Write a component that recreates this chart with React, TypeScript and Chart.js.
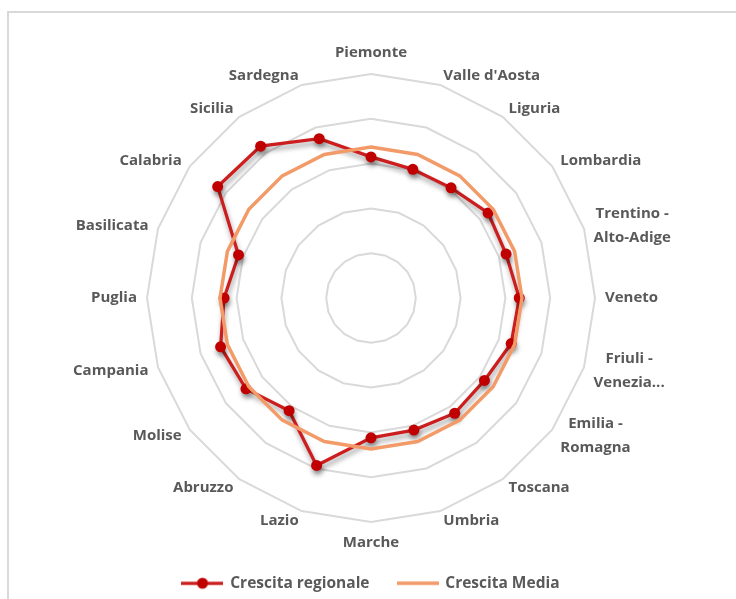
import React, { useEffect, useRef } from "react";
import { Chart, registerables } from "chart.js";

Chart.register(...registerables);

const regioni: (string | string[])[] = [
  "Piemonte",
  "Valle d'Aosta",
  "Liguria",
  "Lombardia",
  ["Trentino -", "Alto-Adige"],
  "Veneto",
  ["Friuli -", "Venezia..."],
  ["Emilia -", "Romagna"],
  "Toscana",
  "Umbria",
  "Marche",
  "Lazio",
  "Abruzzo",
  "Molise",
  "Campania",
  "Puglia",
  "Basilicata",
  "Calabria",
  "Sicilia",
  "Sardegna",
];

const crescitaRegionale = [
  3.15, 3.02, 3.04, 3.23, 3.17, 3.31, 3.29, 3.13, 3.18, 3.1, 3.12, 3.93, 3.11,
  3.45, 3.53, 3.28, 3.11, 4.23, 4.19, 3.74,
];

const crescitaMedia = [
  3.37, 3.37, 3.37, 3.37, 3.37, 3.37, 3.37, 3.37, 3.37, 3.37, 3.37, 3.37, 3.37,
  3.37, 3.37, 3.37, 3.37, 3.37, 3.37, 3.37,
];

const serieNomi = ["Crescita regionale", "Crescita Media"];

const RED_LINE = "#cc1e1e";
const RED_MARK = "#c00000";
const ORANGE = "#f29a68";
const TEXT = "#595959";
const FONT_FAMILY = '"Open Sans", "Noto Sans", sans-serif';

function makeIcon(color: string, width: number, dot: string | null) {
  const c = document.createElement("canvas");
  c.width = 42;
  c.height = 14;
  const g = c.getContext("2d")!;
  g.strokeStyle = color;
  g.lineWidth = width;
  g.beginPath();
  g.moveTo(0, 7);
  g.lineTo(42, 7);
  g.stroke();
  if (dot) {
    g.fillStyle = dot;
    g.beginPath();
    g.arc(21, 7, 5.5, 0, Math.PI * 2);
    g.fill();
  }
  return c;
}

const shadowPlugin = {
  id: "markerShadow",
  beforeDatasetDraw(chart: any, args: any) {
    if (args.index === 0) {
      const ctx = chart.ctx;
      ctx.save();
      ctx.shadowColor = "rgba(0,0,0,0.38)";
      ctx.shadowBlur = 5;
      ctx.shadowOffsetX = 1;
      ctx.shadowOffsetY = 4;
    }
  },
  afterDatasetDraw(chart: any, args: any) {
    if (args.index === 0) chart.ctx.restore();
  },
};

const labelPlugin = {
  id: "excelPointLabels",
  afterDraw(chart: any) {
    const scale = chart.scales.r;
    const ctx = chart.ctx;
    const labels = chart.data.labels as (string | string[])[];
    const n = labels.length;
    ctx.save();
    ctx.font = `700 15px ${FONT_FAMILY}`;
    ctx.fillStyle = TEXT;
    ctx.textAlign = "center";
    ctx.textBaseline = "middle";
    const lh = 24;
    labels.forEach((lab, i) => {
      const lines = Array.isArray(lab) ? lab : [lab];
      const pos = scale.getPointPosition(i, scale.drawingArea + 10);
      const angle = (i * 360) / n;
      const bw = Math.max(...lines.map((l) => ctx.measureText(l).width));
      const bh = lines.length * lh;
      let cx = pos.x;
      let cy = pos.y;
      if (angle === 0) {
        cy = pos.y - 11;
      } else if (angle === 180) {
        cy = pos.y + 11;
      } else if (angle < 180) {
        cx = pos.x + bw / 2;
      } else {
        cx = pos.x - bw / 2;
      }
      lines.forEach((l, j) => {
        ctx.fillText(l, cx, cy - bh / 2 + lh / 2 + j * lh);
      });
    });
    ctx.restore();
  },
};

export default function App() {
  const ref = useRef<HTMLCanvasElement | null>(null);

  useEffect(() => {
    if (!ref.current) return;
    const icons = [makeIcon(RED_LINE, 3.25, RED_MARK), makeIcon(ORANGE, 3.5, null)];
    const chart = new Chart(ref.current, {
      type: "radar",
      data: {
        labels: regioni as any,
        datasets: [
          {
            label: serieNomi[0],
            data: crescitaRegionale,
            borderColor: RED_LINE,
            borderWidth: 3.25,
            backgroundColor: "transparent",
            fill: false,
            pointRadius: 5.5,
            pointBackgroundColor: RED_MARK,
            pointBorderColor: RED_MARK,
            pointBorderWidth: 0,
            tension: 0,
            order: 1,
          },
          {
            label: serieNomi[1],
            data: crescitaMedia,
            borderColor: ORANGE,
            borderWidth: 3.5,
            backgroundColor: "transparent",
            fill: false,
            pointRadius: 0,
            tension: 0,
            order: 0,
          },
        ],
      },
      options: {
        animation: false,
        responsive: false,
        devicePixelRatio: 1,
        layout: { padding: { left: 147, right: 141, top: 49, bottom: -2 } },
        scales: {
          r: {
            min: 0,
            max: 5,
            ticks: { display: false, stepSize: 1 },
            grid: { color: "#d9d9d9", lineWidth: 2 },
            angleLines: { display: false },
            pointLabels: { display: false },
          },
        },
        plugins: {
          tooltip: { enabled: false },
          legend: {
            position: "bottom",
            labels: {
              usePointStyle: true,
              pointStyleWidth: 40,
              padding: 28,
              color: TEXT,
              font: { size: 15.5, weight: "700", family: FONT_FAMILY },
              generateLabels: () =>
                serieNomi.map((t, i) => ({
                  text: t,
                  fillStyle: i === 0 ? RED_MARK : ORANGE,
                  strokeStyle: i === 0 ? RED_LINE : ORANGE,
                  lineWidth: 0,
                  pointStyle: icons[i],
                  hidden: false,
                  datasetIndex: i,
                  fontColor: TEXT,
                })),
            },
          },
        },
      },
      plugins: [shadowPlugin, labelPlugin],
    });
    return () => chart.destroy();
  }, []);

  return (
    <div
      style={{
        position: "absolute",
        left: 0,
        top: 0,
        width: 736,
        height: 599,
        overflow: "hidden",
        background: "#ffffff",
      }}
    >
      <div
        style={{
          position: "absolute",
          left: 7,
          top: 11,
          width: 760,
          height: 620,
          border: "2px solid #d9d9d9",
          boxSizing: "border-box",
        }}
      />
      <canvas
        ref={ref}
        width={736}
        height={599}
        style={{ position: "absolute", left: 0, top: 0, width: 736, height: 599 }}
      />
    </div>
  );
}
